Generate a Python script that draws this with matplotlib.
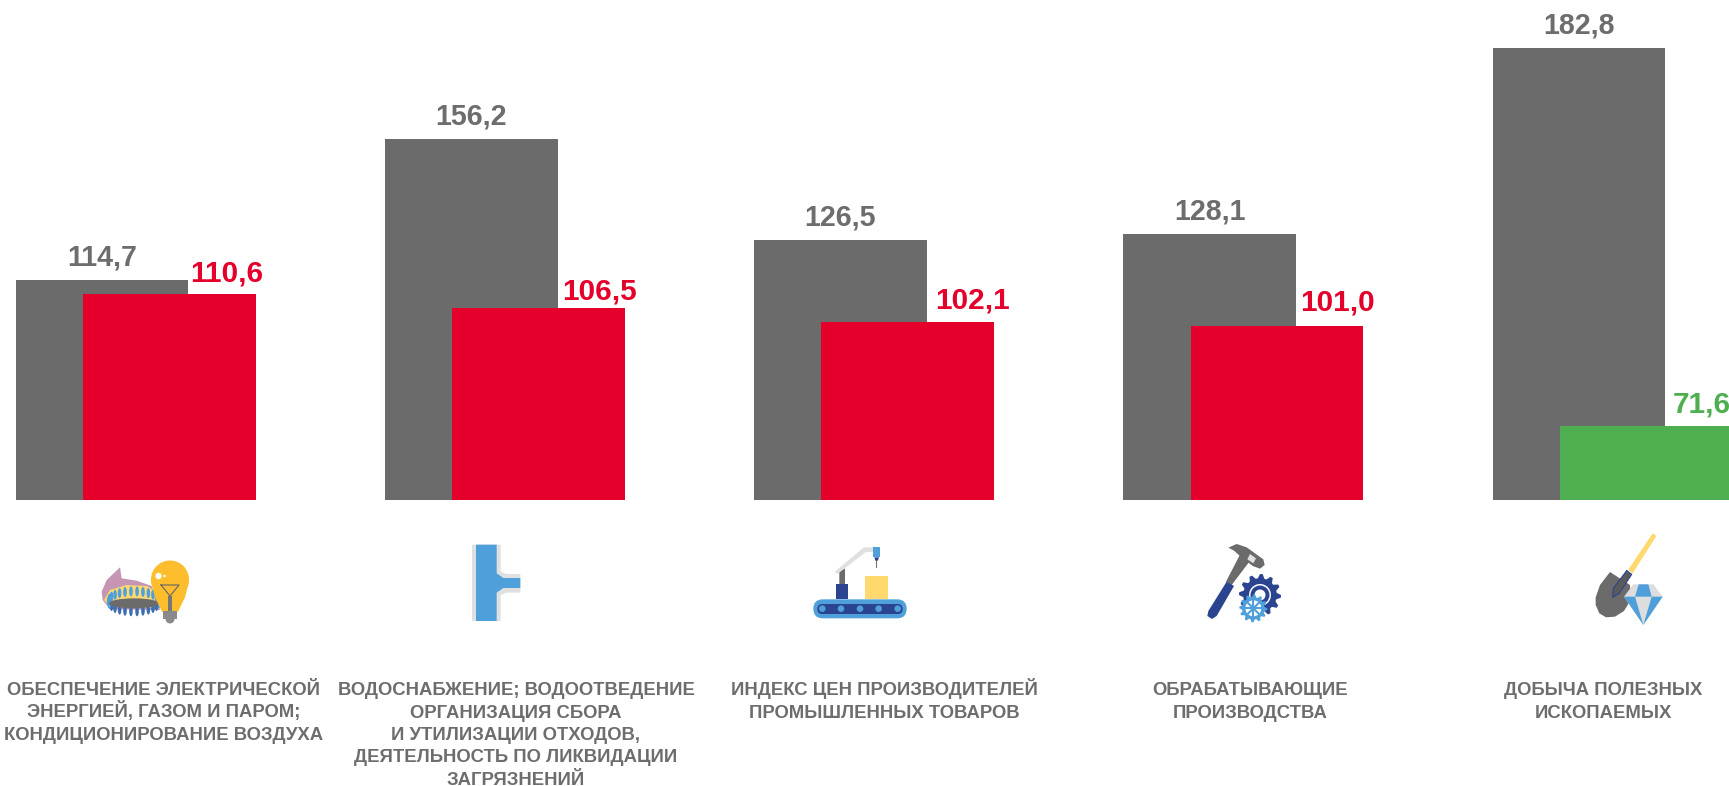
import numpy as np
import matplotlib
matplotlib.use("Agg")
import matplotlib.pyplot as plt
from matplotlib.patches import Polygon, Circle, Ellipse, Rectangle, FancyBboxPatch

plt.rcParams['font.family'] = ['Liberation Sans', 'DejaVu Sans']

categories = [
    "ОБЕСПЕЧЕНИЕ ЭЛЕКТРИЧЕСКОЙ\nЭНЕРГИЕЙ, ГАЗОМ И ПАРОМ;\nКОНДИЦИОНИРОВАНИЕ ВОЗДУХА",
    "ВОДОСНАБЖЕНИЕ; ВОДООТВЕДЕНИЕ\nОРГАНИЗАЦИЯ СБОРА\nИ УТИЛИЗАЦИИ ОТХОДОВ,\nДЕЯТЕЛЬНОСТЬ ПО ЛИКВИДАЦИИ\nЗАГРЯЗНЕНИЙ",
    "ИНДЕКС ЦЕН ПРОИЗВОДИТЕЛЕЙ\nПРОМЫШЛЕННЫХ ТОВАРОВ",
    "ОБРАБАТЫВАЮЩИЕ\nПРОИЗВОДСТВА",
    "ДОБЫЧА ПОЛЕЗНЫХ\nИСКОПАЕМЫХ",
]
grey_values = [114.7, 156.2, 126.5, 128.1, 182.8]
front_values = [110.6, 106.5, 102.1, 101.0, 71.6]

GREY = '#6b6b6b'
RED = '#e4002b'
GREEN = '#4fae50'
TXT = '#6d6d6d'
NAVY = '#2a4490'
BLUE = '#4f9fdb'
LGREY = '#e0e0e0'
YEL = '#ffd96e'

width = 0.468
shift = 0.182
x = np.arange(len(categories))
front_colors = [RED if v > 100 else GREEN for v in front_values]
# the front labels are hand placed in the original, not quite regular
front_dx = [15.4, 17, 19.4, 17, 19.4]
front_dy = [8.4, 6, 10, 11.6, 10]


def fmt(v):
    return f"{v:.1f}".replace('.', ',')


fig = plt.figure(figsize=(17.29, 7.86), dpi=100)

# the bars start from 50, not from zero; axes stops at their foot
H = 786
base_px = 499.5
ax = fig.add_axes([0, (H - base_px) / H, 1, base_px / H])
ax.bar(x, grey_values, width, color=GREY)
ax.bar(x + shift, front_values, width, color=front_colors)
ax.set_xlim(-0.276, 4.406)
ax.set_ylim(50, 50 + base_px / 3.398)
ax.axis('off')

for i in x:
    ax.annotate(fmt(grey_values[i]), (i, grey_values[i]), xytext=(0, 10.4),
                textcoords='offset points', ha='center', va='baseline',
                fontsize=20.6, fontweight='bold', color=TXT, annotation_clip=False)
    ax.annotate(fmt(front_values[i]), (i + shift, front_values[i]), xytext=(front_dx[i], front_dy[i]),
                textcoords='offset points', ha='left', va='baseline',
                fontsize=21.4, fontweight='bold', color=front_colors[i],
                annotation_clip=False)

# overlay in pixels for captions and pictograms
ov = fig.add_axes([0, 0, 1, 1], facecolor='none')
ov.set_xlim(0, 1729)
ov.set_ylim(786, 0)
ov.axis('off')

label_x = [164, 516, 884, 1250, 1603]
for lx, lab in zip(label_x, categories):
    for k, line in enumerate(lab.split('\n')):
        ov.text(lx, 695 + k * 22.5, line, ha='center', va='baseline', fontsize=13.3,
                fontweight='bold', color=TXT)


def zp(ox, oy, pts):
    return [(ox + a / 3, oy + b / 3) for a, b in pts]


def poly(ox, oy, pts, color, z=3):
    ov.add_patch(Polygon(zp(ox, oy, pts), closed=True, fc=color, ec='none', zorder=z))


def gear(cx, cy, r, teeth, color, z=3):
    t = np.linspace(0, 2 * np.pi, teeth * 4, endpoint=False)
    rr = np.tile([r, r, r * 0.8, r * 0.8], teeth)
    ov.add_patch(Polygon(np.c_[cx + rr * np.cos(t), cy + rr * np.sin(t)], fc=color, ec='none', zorder=z))


# gas burner + bulb
o = (60, 510)
poly(*o, [(125, 245), (140, 210), (180, 172), (185, 205), (230, 212), (275, 228), (300, 300),
          (150, 298), (128, 270)], '#c595b3')
poly(*o, [(132, 270), (150, 240), (200, 225), (260, 228), (300, 250), (300, 295), (150, 290)], YEL)
for a in np.linspace(0, 2 * np.pi, 26, endpoint=False):
    ex, ey = 222 + 76 * np.cos(a), 274 + 30 * np.sin(a)
    ov.add_patch(Ellipse((60 + ex / 3, 510 + ey / 3), 3.6, 10, fc=BLUE if np.sin(a) < 0.4 else '#3d6fb0', zorder=3.5))
ov.add_patch(Ellipse((60 + 222 / 3, 510 + 280 / 3), 150 / 3, 30 / 3, fc=GREY, zorder=4))
ov.add_patch(Circle((170, 579.5), 19, fc='#fdbd2c', zorder=5))
poly(*o, [(273, 215), (387, 215), (375, 262), (354, 305), (306, 305), (285, 262)], '#fdbd2c', 5)
ov.add_patch(Circle((158.5, 576), 3.2, fc='white', zorder=6))
ov.add_patch(Circle((164.5, 576), 1.2, fc='white', zorder=6))
ov.plot([161, 179, 170, 161], [585, 585, 596, 585], color='#666666', lw=0.8, zorder=6)
ov.add_patch(Rectangle((168, 596), 4, 15, fc='#777777', ec='none', zorder=6))
ov.add_patch(Rectangle((163, 611), 14, 8, fc='#8a8a8a', ec='none', zorder=6))
ov.add_patch(Circle((170, 619), 4.5, fc='#8a8a8a', ec='none', zorder=5.5))

# pipe
poly(*o, [(1236, 104), (1322, 104), (1322, 185), (1340, 192), (1381, 192), (1381, 248), (1340, 248),
          (1322, 255), (1322, 333), (1236, 333)], LGREY)
poly(*o, [(1248, 104), (1310, 104), (1310, 190), (1330, 204), (1381, 204), (1381, 234), (1330, 234),
          (1310, 248), (1310, 333), (1248, 333)], BLUE)

# conveyor
o = (780, 510)
ov.add_patch(FancyBboxPatch((780 + 100 / 3, 510 + 268 / 3), 280 / 3, 57 / 3, boxstyle="round,pad=0,rounding_size=9.5",
                            fc=BLUE, ec='none', zorder=3))
ov.add_patch(FancyBboxPatch((780 + 112 / 3, 510 + 282 / 3), 256 / 3, 30 / 3, boxstyle="round,pad=0,rounding_size=5",
                            fc=NAVY, ec='none', zorder=4))
for a in [127, 183, 240, 296, 353]:
    ov.add_patch(Circle((780 + a / 3, 510 + 296 / 3), 3.3, fc=BLUE, zorder=5))
poly(*o, [(255, 197), (324, 197), (324, 268), (255, 268)], YEL)
poly(*o, [(169, 222), (203, 222), (203, 268), (169, 268)], NAVY)
poly(*o, [(178, 185), (195, 175), (195, 222), (178, 222)], GREY)
poly(*o, [(164, 185), (252, 112), (280, 112), (280, 126), (258, 126), (172, 192)], LGREY)
poly(*o, [(279, 112), (300, 112), (300, 142), (279, 142)], BLUE)
poly(*o, [(283, 142), (297, 142), (294, 152), (286, 152)], NAVY)
poly(*o, [(288, 150), (291, 150), (291, 175), (288, 175)], GREY)

# hammer + gears
poly(*o, [(1345, 113), (1370, 102), (1400, 112), (1450, 148), (1454, 165), (1440, 176), (1418, 168),
          (1380, 138), (1362, 122)], GREY)
poly(*o, [(1382, 130), (1412, 150), (1355, 225), (1338, 215)], GREY)
poly(*o, [(1410, 132), (1428, 145), (1420, 160), (1402, 148)], LGREY, 3.2)
poly(*o, [(1340, 215), (1362, 228), (1310, 318), (1296, 327), (1282, 318), (1285, 303)], NAVY)
gear(780 + 1440 / 3, 510 + 255 / 3, 21, 12, NAVY, 4)
ov.add_patch(Circle((780 + 1440 / 3, 510 + 255 / 3), 13, fc=NAVY, zorder=4.5))
ov.add_patch(Circle((780 + 1440 / 3, 510 + 255 / 3), 11, fc='white', zorder=4.55))
ov.add_patch(Circle((780 + 1440 / 3, 510 + 255 / 3), 9.5, fc=NAVY, zorder=4.6))
ov.add_patch(Circle((780 + 1440 / 3, 510 + 255 / 3), 5.5, fc='white', zorder=4.7))
gear(780 + 1420 / 3, 510 + 295 / 3, 14, 12, BLUE, 5)
ov.add_patch(Circle((780 + 1420 / 3, 510 + 295 / 3), 8, fc='white', zorder=5.1))
for a in np.arange(0, 180, 45):
    dx, dy = 9 * np.cos(np.radians(a)), 9 * np.sin(np.radians(a))
    ov.plot([780 + 1420 / 3 - dx, 780 + 1420 / 3 + dx], [510 + 295 / 3 - dy, 510 + 295 / 3 + dy],
            color=BLUE, lw=1.5, zorder=5.2)

# shovel + diamond
o = (1500, 510)
poly(*o, [(458, 70), (469, 78), (398, 190), (384, 180)], YEL)
poly(*o, [(330, 186), (390, 225), (392, 270), (372, 303), (345, 320), (318, 322), (298, 310), (287, 285),
          (287, 262), (300, 225)], GREY)
poly(*o, [(380, 182), (395, 193), (358, 250), (338, 262), (340, 235)], '#5a5a5a', 3.5)
ov.plot(*zip(*zp(*o, [(380, 182), (395, 193), (358, 250), (338, 262), (340, 235), (380, 182)])),
        color=NAVY, lw=0.8, zorder=4)
poly(*o, [(400, 223), (460, 223), (488, 260), (430, 345), (372, 260)], '#dddddd', 4)
poly(*o, [(416, 223), (445, 223), (455, 260), (405, 260)], BLUE, 5)
poly(*o, [(372, 260), (405, 260), (430, 345)], BLUE, 5)
poly(*o, [(455, 260), (488, 260), (430, 345)], BLUE, 5)

fig.savefig('out.png', dpi=100)
